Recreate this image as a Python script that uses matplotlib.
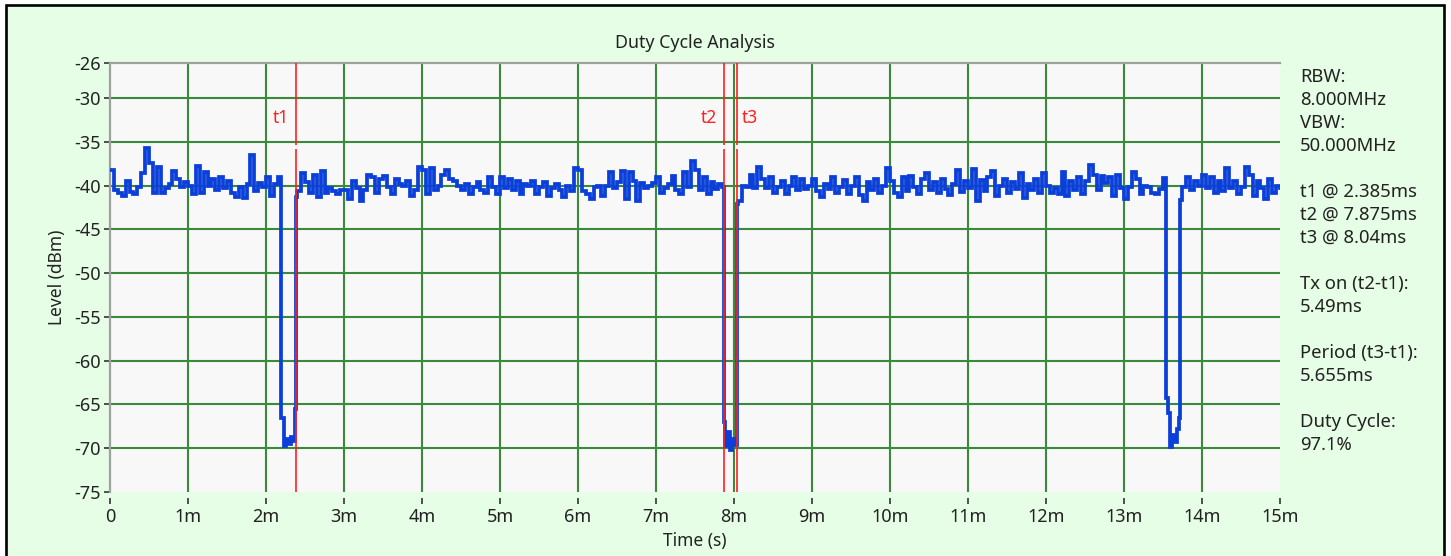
import numpy as np
import matplotlib.pyplot as plt
from matplotlib.patches import Rectangle

plt.rcParams['font.family'] = ['Noto Sans', 'DejaVu Sans']
plt.rcParams['axes.unicode_minus'] = False

# marker positions (ms)
t1_ms = 2.385
t2_ms = 7.875
t3_ms = 8.04

rbw_text = "8.000MHz"
vbw_text = "50.000MHz"

# measured level every 0.05 ms (dBm); nan where the burst gap takes over
sample_step_ms = 0.05
baseline_dbm = [
    -38.2, -40.5, -40.9, -41.2, -39.5, -40.7, -41.0, -40.2, -38.6, -35.7,
    -37.4, -40.9, -37.9, -40.8, -40.3, -39.8, -38.3, -39.3, -40.2, -39.6,
    -40.0, -41.0, -37.8, -40.8, -38.4, -40.0, -39.3, -40.5, -39.0, -40.3,
    -39.5, -40.8, -41.3, -40.2, -41.4, -39.8, -36.5, -40.6, -39.7, -40.2,
    -39.0, -41.2, -39.8, -39.0, np.nan, np.nan, np.nan, np.nan, -40.6, -38.6,
    -39.6, -40.8, -38.8, -41.3, -38.3, -40.8, -40.3, -40.6, -41.0, -40.5,
    -40.5, -41.5, -39.5, -40.3, -41.8, -40.5, -38.8, -39.0, -40.8, -39.3,
    -38.9, -40.2, -41.0, -39.3, -39.8, -40.0, -39.5, -41.2, -40.5, -37.9,
    -38.2, -41.0, -38.0, -40.5, -40.0, -38.8, -38.2, -39.2, -39.5, -40.0,
    -40.5, -39.8, -41.0, -40.2, -39.6, -40.5, -40.8, -39.0, -40.2, -41.0,
    -39.0, -40.3, -39.3, -40.5, -39.5, -41.0, -39.8, -40.0, -39.5, -41.0,
    -40.2, -39.6, -41.2, -40.3, -39.8, -40.5, -41.3, -40.0, -40.6, -38.0,
    -38.2, -40.6, -41.0, -41.5, -40.2, -40.0, -41.2, -40.0, -38.5, -40.3,
    -39.6, -38.3, -41.5, -38.4, -39.5, -41.8, -39.7, -40.3, -40.0, -39.7,
    -39.0, -40.8, -40.3, -39.8, -38.9, -40.5, -41.0, -38.5, -40.2, -37.2,
    -38.2, -40.5, -39.0, -41.0, -39.6, -40.4, -39.8, -40.2, np.nan, np.nan,
    np.nan, -41.8, -40.0, -40.2, -38.8, -40.3, -37.9, -39.2, -40.3, -39.0,
    -40.8, -40.2, -39.5, -41.0, -40.0, -39.0, -40.5, -39.2, -40.4, -40.0,
    -39.2, -40.6, -41.3, -39.8, -40.4, -39.0, -40.9, -40.2, -39.4, -41.0,
    -40.1, -39.0, -41.1, -41.8, -39.6, -40.5, -39.2, -40.8, -40.0, -38.0,
    -39.5, -40.8, -41.3, -39.0, -40.6, -38.9, -40.2, -41.0, -39.3, -38.6,
    -40.5, -39.6, -40.9, -39.2, -40.4, -41.1, -39.8, -38.2, -40.7, -39.5,
    -40.3, -38.1, -41.8, -39.4, -40.6, -39.0, -38.3, -41.2, -40.1, -39.2,
    -40.8, -39.6, -40.4, -38.6, -41.4, -39.8, -40.5, -39.3, -40.9, -38.6,
    -40.0, -40.8, -40.3, -41.0, -38.4, -41.2, -39.5, -40.5, -39.0, -41.0,
    -39.5, -37.7, -38.8, -40.5, -38.9, -39.7, -39.0, -41.2, -38.8, -40.3,
    -41.5, -40.2, -38.5, -39.3, -41.0, -40.0, -40.2, -40.8, -41.0, -40.4,
    -39.1, np.nan, np.nan, np.nan, np.nan, -40.2, -39.0, -40.5, -39.5, -40.0,
    -38.8, -40.3, -39.0, -40.8, -39.5, -40.6, -38.0, -40.3, -39.5, -41.0,
    -40.2, -37.9, -38.8, -41.2, -39.5, -40.3, -41.5, -39.2, -40.8, -40.0,
    -40.3,
]

# the three transmit gaps, time (ms) and level (dBm)
gap1_ms = [2.19, 2.23, 2.26, 2.29, 2.32, 2.35, 2.37, 2.385]
gap1_dbm = [-66.5, -69.8, -68.9, -69.5, -68.7, -69.2, -65.5, -41.3]
gap2_ms = [7.875, 7.89, 7.92, 7.95, 7.98, 8.01, 8.04]
gap2_dbm = [-67.0, -69.8, -68.2, -70.2, -69.0, -69.6, -42.1]
gap3_ms = [13.54, 13.56, 13.59, 13.62, 13.65, 13.68, 13.70, 13.72]
gap3_dbm = [-64.3, -66.0, -69.9, -68.5, -69.3, -67.8, -66.5, -41.6]

x_ticks = list(range(0, 16))
x_tick_labels = ['0'] + [f'{i}m' for i in range(1, 16)]
y_ticks = [-26, -30, -35, -40, -45, -50, -55, -60, -65, -70, -75]

# build one trace from the baseline samples and the gaps
t_base = np.arange(len(baseline_dbm)) * sample_step_ms
lvl_base = np.array(baseline_dbm, dtype=float)
keep = ~np.isnan(lvl_base)
t_all = np.concatenate([t_base[keep], gap1_ms, gap2_ms, gap3_ms])
lvl_all = np.concatenate([lvl_base[keep], gap1_dbm, gap2_dbm, gap3_dbm])
order = np.argsort(t_all, kind='stable')
t_all = t_all[order]
lvl_all = lvl_all[order]

W, H = 1451, 556
fig = plt.figure(figsize=(W / 100, H / 100), dpi=100, facecolor='white')
panel = Rectangle((6 / W, -0.05), 1438 / W, 1.05 - 5 / H, transform=fig.transFigure,
                  facecolor='#E6FDE6', edgecolor='black', linewidth=1.9, zorder=-10)
fig.add_artist(panel)

ax = fig.add_axes([110 / W, 1 - 492 / H, 1170 / W, 429 / H])
ax.set_facecolor('#F8F8F8')

grid_color = '#3B8A3B'
for y in y_ticks[1:-1]:
    ax.axhline(y, color=grid_color, lw=1.5, zorder=1)
for x in x_ticks[1:-1]:
    ax.axvline(x, color=grid_color, lw=1.5, zorder=1)

ax.plot(t_all, lvl_all, drawstyle='steps-post', color='#0A3FD9', lw=2.7,
        solid_joinstyle='miter', zorder=3)

# markers with a short break just under -35 dBm
for t, name, side in [(t1_ms, 't1', 'left'), (t2_ms, 't2', 'left'), (t3_ms, 't3', 'right')]:
    ax.vlines(t, -75, -35.8, color='#FF1F1F', lw=1.2, zorder=4)
    ax.vlines(t, -35.4, -26, color='#FF1F1F', lw=1.2, zorder=4)
    dx = -5 if side == 'left' else 3
    ax.annotate(name, (t, -32.3), xytext=(dx, 0), textcoords='offset points',
                ha='right' if side == 'left' else 'left', va='center',
                color='#FF2020', fontsize=12.5)

ax.set_xlim(0, 15)
ax.set_ylim(-75, -26)
ax.set_xticks(x_ticks)
ax.set_xticklabels(x_tick_labels)
ax.set_yticks(y_ticks)

for side in ['right', 'bottom']:
    ax.spines[side].set_visible(False)
ax.spines['bottom'].set_position(('outward', 4))
for side in ['left', 'top']:
    ax.spines[side].set_color('#A0A0A0')
    ax.spines[side].set_linewidth(1.6)

ax.tick_params(axis='y', direction='out', length=4.5, width=1.2, color='#333333',
               pad=2, labelsize=13, labelcolor='#222222')
ax.tick_params(axis='x', direction='out', length=4.5, width=1.2, color='#333333',
               pad=3, labelsize=13, labelcolor='#222222')

ax.set_title('Duty Cycle Analysis', fontsize=12.8, color='#222222', pad=11)
ax.set_ylabel('Level (dBm)', fontsize=12.5, color='#222222', labelpad=6)
ax.set_xlabel('Time (s)', fontsize=12.5, color='#222222', labelpad=4)

# measurement summary on the right
tx_on = round(t2_ms - t1_ms, 3)
period = round(t3_ms - t1_ms, 3)
duty = tx_on / period * 100
info_lines = [
    'RBW:', rbw_text, 'VBW:', vbw_text, '',
    f't1 @ {t1_ms:g}ms', f't2 @ {t2_ms:g}ms', f't3 @ {t3_ms:g}ms', '',
    'Tx on (t2-t1):', f'{tx_on:g}ms', '',
    'Period (t3-t1):', f'{period:g}ms', '',
    'Duty Cycle:', f'{duty:.1f}%',
]
for i, line in enumerate(info_lines):
    if line:
        fig.text(1300 / W, 1 - (77 + i * 23.0) / H, line, ha='left', va='center',
                 fontsize=13.3, color='#222222')

fig.savefig('out.png', dpi=100, facecolor='white')
